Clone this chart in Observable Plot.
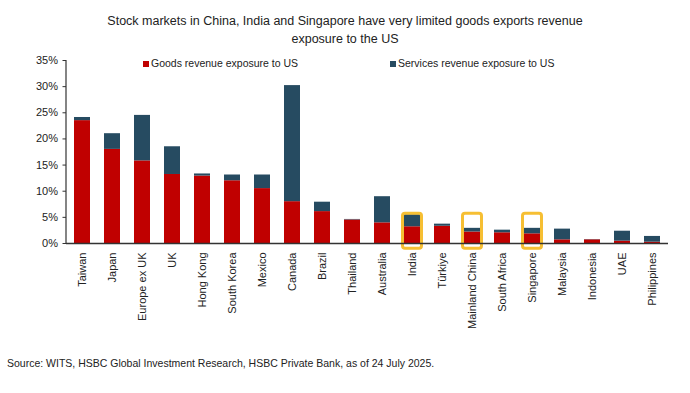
<!DOCTYPE html>
<html>
<head>
<meta charset="utf-8">
<script src="https://cdn.jsdelivr.net/npm/d3@7"></script>
<script src="https://cdn.jsdelivr.net/npm/@observablehq/plot@0.6"></script>
<style>
  body { margin: 0; background: #fff; font-family: "Liberation Sans", Arial, sans-serif; }
  #wrap { position: relative; width: 690px; height: 393px; }
  #title { position: absolute; top: 12px; left: 0; width: 690px; text-align: center; font-size: 12.5px; line-height: 18px; color: #222; }
  #chart { position: absolute; top: 48px; left: 0; }
  .leg { position: absolute; top: 57px; font-size: 10.5px; color: #222; white-space: nowrap; }
  .sw { display: inline-block; width: 6px; height: 6px; margin-right: 2px; vertical-align: 0px; }
  #source { position: absolute; top: 357px; left: 7px; font-size: 10.5px; color: #222; }
</style>
</head>
<body>
<div id="wrap">
  <div id="title">Stock markets in China, India and Singapore have very limited goods exports revenue<br>exposure to the US</div>
  <div id="chart"></div>
  <div class="leg" style="left:143px"><span class="sw" style="background:#C00000"></span>Goods revenue exposure to US</div>
  <div class="leg" style="left:390px"><span class="sw" style="background:#264B61"></span>Services revenue exposure to US</div>
  <div id="source">Source: WITS, HSBC Global Investment Research, HSBC Private Bank, as of 24 July 2025.</div>
</div>
<script>
const countries = ["Taiwan","Japan","Europe ex UK","UK","Hong Kong","South Korea","Mexico","Canada","Brazil","Thailand","Australia","India","Türkiye","Mainland China","South Africa","Singapore","Malaysia","Indonesia","UAE","Philippines"];
const goods    = [23.5, 18.0, 15.8, 13.2, 12.9, 12.0, 10.5, 8.0, 6.1, 4.5, 3.95, 3.2, 3.3, 2.2, 2.05, 1.85, 0.7, 0.7, 0.45, 0.25];
const services = [0.6, 3.0, 8.7, 5.3, 0.4, 1.1, 2.6, 22.2, 1.8, 0.1, 5.0, 2.3, 0.4, 0.7, 0.5, 1.05, 2.05, 0.05, 1.9, 1.1];
const seriesNames = ["Goods revenue exposure to US", "Services revenue exposure to US"];
const seriesColors = ["#C00000", "#264B61"];
const yTicks = [0, 5, 10, 15, 20, 25, 30, 35];
const highlighted = ["India", "Mainland China", "Singapore"];
const highlightRange = [-1.0, 5.7];

const data = [];
countries.forEach((c, i) => {
  data.push({country: c, series: seriesNames[0], value: goods[i]});
  data.push({country: c, series: seriesNames[1], value: services[i]});
});
const boxes = highlighted.map(c => ({country: c, y1: highlightRange[0], y2: highlightRange[1]}));

// y-axis line drawn from the y scale
function yAxisLine(index, scales, values, dimensions) {
  const ns = "http://www.w3.org/2000/svg";
  const line = document.createElementNS(ns, "line");
  const x = dimensions.marginLeft;
  line.setAttribute("x1", x); line.setAttribute("x2", x);
  line.setAttribute("y1", scales.y(yTicks[yTicks.length - 1]));
  line.setAttribute("y2", scales.y(yTicks[0]));
  line.setAttribute("stroke", "#333");
  line.setAttribute("stroke-width", 1.2);
  return line;
}

const chart = Plot.plot({
  width: 690,
  height: 300,
  marginLeft: 66,
  marginRight: 22,
  marginTop: 12,
  marginBottom: 105,
  style: {fontFamily: "Liberation Sans, Arial, sans-serif", fontSize: "11px", color: "#222", background: "transparent"},
  x: {domain: countries, paddingInner: 0.47, paddingOuter: 0.235, label: null},
  y: {domain: [0, 35], label: null},
  color: {domain: seriesNames, range: seriesColors},
  marks: [
    Plot.barY(data, {x: "country", y: "value", fill: "series", order: seriesNames}),
    Plot.barY(boxes, {x: "country", y1: "y1", y2: "y2", fill: "none", stroke: "#F6BF33", strokeWidth: 3, rx: 2.5, insetLeft: -1.5, insetRight: -1.5}),
    Plot.axisY({ticks: yTicks, tickFormat: d => d + "%", tickSize: 3.5, tickPadding: 5, stroke: "#333", fontSize: 11, label: null}),
    yAxisLine,
    Plot.ruleY([0], {stroke: "#333", strokeWidth: 1.5}),
    Plot.axisX({tickSize: 0, tickRotate: -90, tickPadding: 9, fontSize: 11, label: null})
  ]
});
document.getElementById("chart").appendChild(chart);
</script>
</body>
</html>
